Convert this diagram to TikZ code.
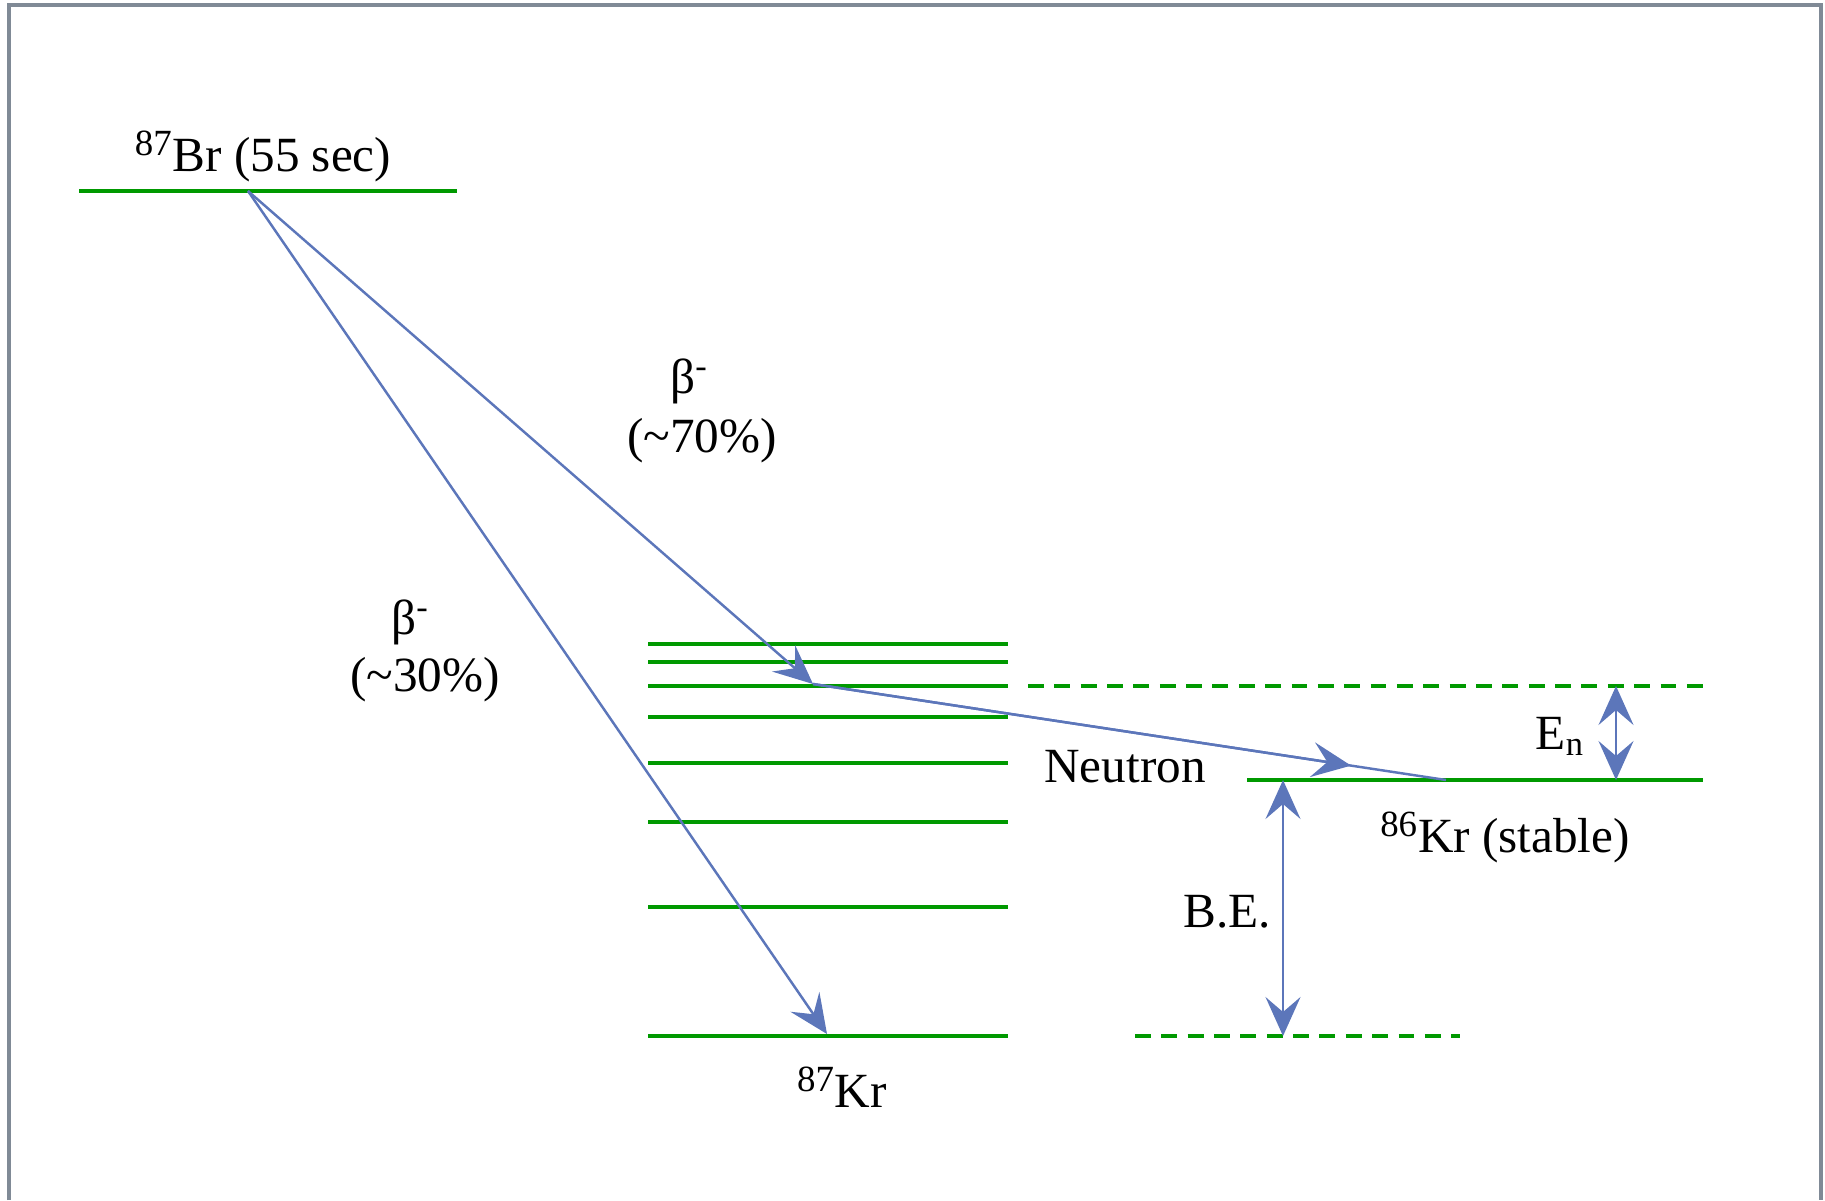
\documentclass[tikz,border=0pt]{standalone}
\usepackage{fontspec}
\setmainfont{Liberation Serif}
\usepackage{xcolor}
\usetikzlibrary{positioning, arrows.meta, calc}

\definecolor{levelgreen}{RGB}{0,153,0}
\definecolor{decayblue}{RGB}{92,118,186}
\definecolor{framegray}{RGB}{128,138,150}
\newcommand{\nucmass}[1]{\textsuperscript{\fontsize{21}{21}\selectfont #1}}

\begin{document}
\begin{tikzpicture}[
    x=0.02cm, y=-0.02cm,
    level/.style={draw=levelgreen, line width=2pt},
    virtual_level/.style={level, dash pattern=on 9pt off 6pt},
    decay_edge/.style={-{Stealth[length=0.78cm, width=0.7cm, inset=0.3cm]}, draw=decayblue, line width=1.4pt},
    decay_line/.style={draw=decayblue, line width=1.4pt},
    gap_edge/.style={{Stealth[length=0.78cm, width=0.7cm, inset=0.3cm]}-{Stealth[length=0.78cm, width=0.7cm, inset=0.3cm]}, draw=decayblue, line width=1.3pt},
    level_text/.style={font=\fontsize{28}{32}\selectfont, inner sep=0pt, anchor=base}
]
\useasboundingbox (0,0) rectangle (1825,1200);
\draw[framegray, line width=2pt] (9,1200) -- (9,5) -- (1821,5) -- (1821,1200);

% parent level
\coordinate (br_w) at (79,191);
\coordinate (br_e) at (457,191);
\coordinate (br_src) at (248,191);
\draw[level] (br_w) -- (br_e);
\node[level_text] (br_name) at (263,171) {\nucmass{87}Br (55 sec)};

% 87Kr levels
\foreach \y [count=\i] in {644,662,686,717,763,822,907,1036} {
    \coordinate (kr87_\i_w) at (648,\y);
    \coordinate (kr87_\i_e) at (1008,\y);
    \draw[level] (kr87_\i_w) -- (kr87_\i_e);
}
\node[level_text] (kr87_name) at (842,1107) {\nucmass{87}Kr};

% 86Kr + neutron levels
\coordinate (sep_w) at (1028,686);
\coordinate (sep_e) at (1709,686);
\coordinate (kr86_w) at (1247,780);
\coordinate (kr86_e) at (1703,780);
\coordinate (ground_w) at (1135,1036);
\coordinate (ground_e) at (1460,1036);
\draw[virtual_level] (sep_w) -- (sep_e);
\draw[level] (kr86_w) -- (kr86_e);
\draw[virtual_level] (ground_w) -- (ground_e);
\node[level_text] (kr86_name) at (1505,852) {\nucmass{86}Kr (stable)};

% decays
\coordinate (emit) at (813,684);
\coordinate (kr87_hit) at (827,1034);
\coordinate (kr86_hit) at (1446,780);
\draw[decay_edge] (br_src) -- (kr87_hit);
\draw[decay_edge] (br_src) -- (emit);
\draw[decay_line] (emit) -- (kr86_hit);
\draw[decay_edge] (emit) -- ($(emit)!0.85!(kr86_hit)$);

\node[level_text] (beta_hi) at (689,393) {β\textsuperscript{-}};
\node[level_text] (pct_hi) at (702,452) {(\textasciitilde70\%)};
\node[level_text] (beta_lo) at (410,634) {β\textsuperscript{-}};
\node[level_text] (pct_lo) at (425,691) {(\textasciitilde30\%)};
\node[level_text] (neutron) at (1125,782) {Neutron};

% energy gaps
\coordinate (en_top) at (1616,686);
\coordinate (en_bot) at (1616,780);
\coordinate (be_top) at (1283,780);
\coordinate (be_bot) at (1283,1036);
\draw[gap_edge] (en_top) -- (en_bot);
\draw[gap_edge] (be_top) -- (be_bot);
\node[level_text] (en_name) at (1560,749) {E\textsubscript{n}};
\node[level_text] (be_name) at (1227,927) {B.E.};
\end{tikzpicture}
\end{document}
